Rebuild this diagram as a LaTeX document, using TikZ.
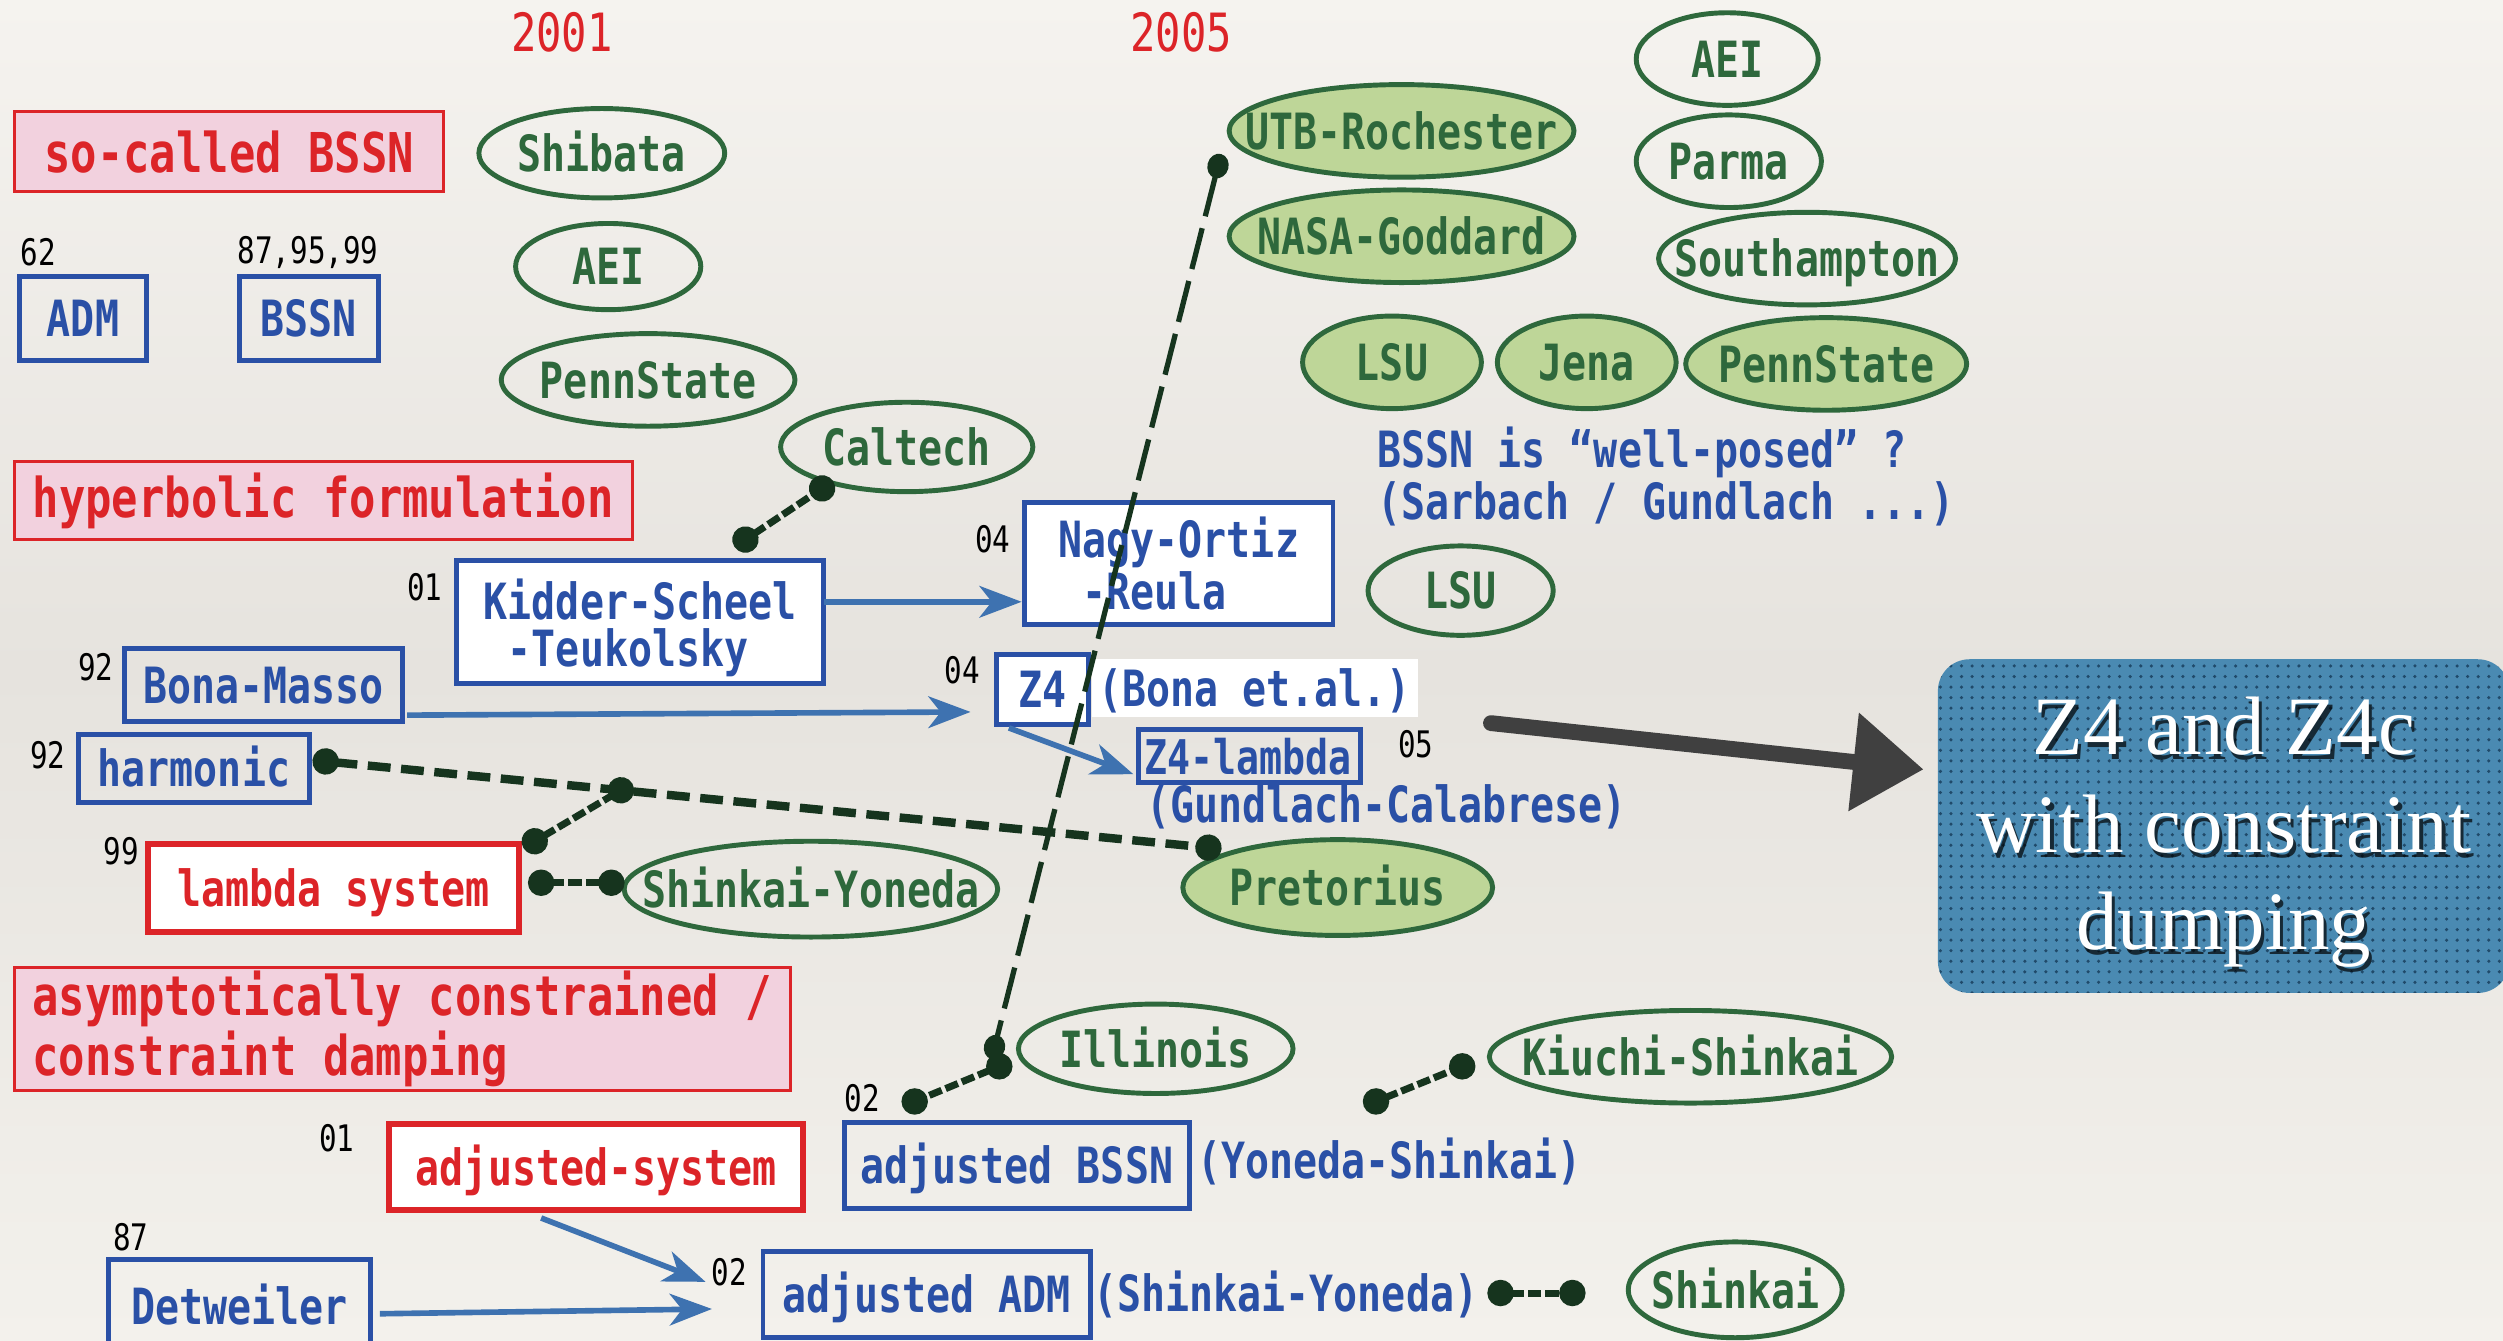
\documentclass[tikz,border=0pt]{standalone}
\usepackage{fontspec}
\newfontfamily\mono[FakeStretch=0.8]{DejaVu Sans Mono}
\newfontfamily\serifbox{Liberation Serif}
\usetikzlibrary{arrows.meta,shapes.geometric,patterns,calc}
\newcommand{\un}{0.4542pt}
\definecolor{cred}{RGB}{220,36,40}
\definecolor{cpink}{RGB}{242,209,222}
\definecolor{cblue}{RGB}{42,80,166}
\definecolor{carrow}{RGB}{62,114,176}
\definecolor{cgreen}{RGB}{46,104,60}
\definecolor{cfill}{RGB}{190,214,152}
\definecolor{cdot}{RGB}{22,52,30}
\definecolor{cbox}{RGB}{74,138,178}
\definecolor{cboxdot}{RGB}{32,74,106}
\definecolor{cgray}{RGB}{64,64,64}
\definecolor{bgtop}{RGB}{245,243,239}
\definecolor{bgmid}{RGB}{230,227,222}
\definecolor{bgbot}{RGB}{243,241,236}
\begin{document}
\begin{tikzpicture}[x=0.015963cm,y=-0.015963cm,
  every node/.style={inner sep=0pt,outer sep=0pt},
  txt/.style={font=\mono\bfseries\fontsize{14.2}{13.6}\selectfont},
  hdr/.style={font=\mono\bfseries\fontsize{15.6}{14.5}\selectfont, text=cred},
  yr/.style={font=\mono\fontsize{10.4}{12}\selectfont, text=black},
  year/.style={font=\mono\fontsize{15}{16}\selectfont, text=cred},
  one/.style={text height=10.4pt, text depth=0pt},
  bbox/.style={txt, one, draw=cblue, line width=1.4pt, text=cblue, rectangle},
  rbox/.style={txt, one, draw=cred, line width=1.7pt, text=cred, fill=white, rectangle},
  cat/.style={hdr, draw=cred, line width=0.9pt, fill=cpink, rectangle},
  grp/.style={txt, one, ellipse, draw=cgreen, line width=1.4pt, text=cgreen},
  grpf/.style={grp, fill=cfill},
  btxt/.style={txt, one, text=cblue},
  arr/.style={draw=carrow, line width=1.6pt, arrows={-Stealth[length=12pt,width=9pt,inset=3.5pt]}},
  dcs/.style={draw=cdot, line width=2pt, dash pattern=on 3.8pt off 1.2pt,
     arrows={Circle[length=7.5pt]-Circle[length=7.5pt]}, shorten <=-3.75pt, shorten >=-3.75pt},
  dch/.style={draw=cdot, line width=2.4pt, dash pattern=on 6.5pt off 3pt,
     arrows={Circle[length=7.5pt]-Circle[length=7.5pt]}, shorten <=-3.75pt, shorten >=-3.75pt},
  dcl/.style={draw=cdot, line width=1.5pt, dash pattern=on 12pt off 3.5pt,
     arrows={Circle[length=7pt,width=6pt]-Circle[length=7pt,width=6pt]}, shorten <=-3.5pt, shorten >=-3.5pt},
  bigarr/.style={draw=cgray, line width=4.5pt, line cap=round, arrows={-Triangle[length=20pt,width=27pt]}}
]
\useasboundingbox (0,0) rectangle (1568,840);
\fill[top color=bgtop, bottom color=bgbot, middle color=bgmid] (0,0) rectangle (1568,840);

% years
\node[year] (y2001) at (352,20) {2001};
\node[year] (y2005) at (740,20) {2005};

% category boxes
\node[cat, minimum width=269*\un, minimum height=50*\un] (catbssn) at (143.5,95) {so-called BSSN};
\node[cat, minimum width=387*\un, minimum height=49*\un] (cathyp) at (202.5,313.5) {hyperbolic formulation};
\node[cat, minimum width=486*\un, minimum height=77*\un, align=left] (catasym) at (252,644.5) {asymptotically constrained /\\constraint damping};

% formulation boxes
\node[yr] (l62) at (24,158) {62};
\node[bbox, minimum width=80*\un, minimum height=53*\un] (adm) at (52,199.5) {ADM};
\node[yr] (l879599) at (193,158) {87,95,99};
\node[bbox, minimum width=87*\un, minimum height=53*\un] (bssn) at (193.5,199.5) {BSSN};

\node[yr] (l01a) at (266,368) {01};
\node[txt, draw=cblue, line width=1.4pt, text=cblue, fill=white, align=left, minimum width=230*\un, minimum height=77*\un] (kidder) at (401,389.5) {\rule{0pt}{15pt}Kidder-Scheel\\\hphantom{K}-Teukolsky};
\node[yr] (l04a) at (622,338) {04};
\node[txt, draw=cblue, line width=1.4pt, text=cblue, fill=white, align=left, minimum width=193*\un, minimum height=76*\un] (nagy) at (738.5,353) {Nagy-Ortiz\\\hphantom{N}-Reula};

\node[yr] (l92a) at (60,418) {92};
\node[bbox, minimum width=174*\un, minimum height=46*\un] (bona) at (165,429) {Bona-Masso};
\node[yr] (l04b) at (603,420) {04};
\node[bbox, fill=white, minimum width=58*\un, minimum height=44*\un] (z4) at (653,432) {Z4};
\node[btxt, fill=white, minimum width=204*\un, minimum height=36*\un] (bonaetal) at (786,431) {(Bona et.al.)};

\node[yr] (l92b) at (30,473) {92};
\node[bbox, minimum width=145*\un, minimum height=43*\un] (harm) at (121.5,481.5) {harmonic};

\node[bbox, font=\mono\bfseries\fontsize{13.6}{13}\selectfont, minimum width=139*\un, minimum height=33*\un] (z4l) at (782.5,473.5) {\makebox[59.5pt][l]{Z4-lambda}};
\node[yr] (l05) at (887,466) {05};
\node[btxt, anchor=west] (gc) at (718,504) {(Gundlach-Calabrese)};

\node[yr] (l99) at (76,533) {99};
\node[rbox, minimum width=232*\un, minimum height=55*\un] (lambda) at (209,556.5) {lambda system};

\node[yr] (l02a) at (540,688) {02};
\node[bbox, minimum width=216*\un, minimum height=54*\un] (adjbssn) at (637,730) {adjusted BSSN};
\node[btxt, anchor=west] (ys) at (750,727) {(Yoneda-Shinkai)};

\node[yr] (l01b) at (211,713) {01};
\node[rbox, minimum width=259*\un, minimum height=54*\un] (adjsys) at (373.5,731) {adjusted-system};

\node[yr] (l87) at (82,775) {87};
\node[bbox, minimum width=164*\un, minimum height=58*\un] (detw) at (150,818) {Detweiler};

\node[yr] (l02b) at (457,797) {02};
\node[bbox, minimum width=205*\un, minimum height=54*\un] (adjadm) at (580.5,811) {adjusted ADM};
\node[btxt, anchor=west] (sy) at (685,810) {(Shinkai-Yoneda)};

\node[txt, text=cblue, align=left, anchor=west, font=\mono\bfseries\fontsize{14.2}{13.2}\selectfont] (wellposed) at (863,298.5) {BSSN is “well-posed” ?\\(Sarbach / Gundlach ...)};

% groups
\node[grp, minimum width=154*\un, minimum height=56*\un] (shibata) at (377,96) {\makebox[0pt]{Shibata}};
\node[grp, minimum width=116*\un, minimum height=54*\un] (aeil) at (381,167) {\makebox[0pt]{AEI}};
\node[grp, minimum width=184*\un, minimum height=58*\un] (pennl) at (406,238) {\makebox[0pt]{PennState}};
\node[grp, minimum width=158*\un, minimum height=56*\un] (caltech) at (568,280) {\makebox[0pt]{Caltech}};
\node[grp, minimum width=234*\un, minimum height=60*\un] (shyo) at (508,557) {\makebox[0pt]{Shinkai-Yoneda}};
\node[grpf, minimum width=194*\un, minimum height=60*\un] (pret) at (838,556) {\makebox[0pt]{Pretorius}};
\node[grp, minimum width=172*\un, minimum height=56*\un] (illinois) at (724,657) {\makebox[0pt]{Illinois}};
\node[grp, minimum width=252*\un, minimum height=58*\un] (kiuchi) at (1059,662) {\makebox[0pt]{Kiuchi-Shinkai}};
\node[grp, minimum width=134*\un, minimum height=60*\un] (shinkai) at (1087,808) {\makebox[0pt]{Shinkai}};
\node[grpf, minimum width=216*\un, minimum height=58*\un] (utb) at (878,82) {\makebox[0pt]{UTB-Rochester}};
\node[grpf, minimum width=216*\un, minimum height=58*\un] (nasa) at (878,148) {\makebox[0pt]{NASA-Goddard}};
\node[grp, minimum width=114*\un, minimum height=58*\un] (aeir) at (1082,37) {\makebox[0pt]{AEI}};
\node[grp, minimum width=116*\un, minimum height=58*\un] (parma) at (1083,101) {\makebox[0pt]{Parma}};
\node[grp, minimum width=186*\un, minimum height=58*\un] (southampton) at (1132,162) {\makebox[0pt]{Southampton}};
\node[grpf, minimum width=112*\un, minimum height=58*\un] (lsu) at (872,227) {\makebox[0pt]{LSU}};
\node[grpf, minimum width=112*\un, minimum height=58*\un] (jena) at (994,227) {\makebox[0pt]{Jena}};
\node[grpf, minimum width=176*\un, minimum height=58*\un] (pennr) at (1144,228) {\makebox[0pt]{PennState}};
\node[grp, minimum width=116*\un, minimum height=56*\un] (lsub) at (915,370) {\makebox[0pt]{LSU}};

% blue result box
\node[fill=cbox, rounded corners=9pt, minimum width=358*\un, minimum height=209*\un,
      postaction={pattern=dots, pattern color=cboxdot}] (bluebox) at (1393,517.5) {};
\node[font=\serifbox\fontsize{23.6}{27.7}\selectfont, align=center, text=black, opacity=0.7] (blueshadow) at (1395,524.5) {Z4 and Z4c\\with constraint\\dumping};
\node[font=\serifbox\fontsize{23.6}{27.7}\selectfont, align=center, text=white] (bluetext) at (1393,521.5) {Z4 and Z4c\\with constraint\\dumping};

% connector end points
\coordinate (kcA) at (467,338); \coordinate (kcB) at (515,306);
\coordinate (hpA) at (204,477); \coordinate (hpB) at (757,531);
\coordinate (lhA) at (335,527); \coordinate (lhB) at ($(hpA)!0.3345!(hpB)$);
\coordinate (lsA) at (339,553); \coordinate (lsB) at (383,553);
\coordinate (ulA) at (763,104); \coordinate (ulB) at (623,656);
\coordinate (ibA) at (626,668); \coordinate (ibB) at (573,690);
\coordinate (kiA) at (862,690); \coordinate (kiB) at (916,668);
\coordinate (shA) at (940,810); \coordinate (shB) at (985,810);
\coordinate (bigA) at (934,453);

% dotted relations
\draw[dcl] (ulA) -- (ulB);
\draw[dch] (hpA) -- (hpB);
\draw[dcs] (kcA) -- (kcB);
\draw[dcs] (lhA) -- (lhB);
\draw[dcs] (lsA) -- (lsB);
\draw[dcs] (ibA) -- (ibB);
\draw[dcs] (kiA) -- (kiB);
\draw[dcs] (shA) -- (shB);

% derivation arrows
\draw[arr] ([shift={(0,-12.5)}]kidder.east) -- ([shift={(-2,24)}]nagy.west);
\draw[arr] ([shift={(3,19)}]bona.east) -- ([shift={(-16,14)}]z4.west);
\draw[arr] ([shift={(8,2)}]z4.south west) -- ([shift={(-3,11.5)}]z4l.west);
\draw[arr] ([shift={(-34.5,5)}]adjsys.south) -- ([shift={(-36,-8)}]adjadm.west);
\draw[arr] ([shift={(6,5)}]detw.east) -- ([shift={(-32,9)}]adjadm.west);

% big arrow
\draw[bigarr] (bigA) -- ([shift={(-9,-35.5)}]bluebox.west);
\end{tikzpicture}
\end{document}
